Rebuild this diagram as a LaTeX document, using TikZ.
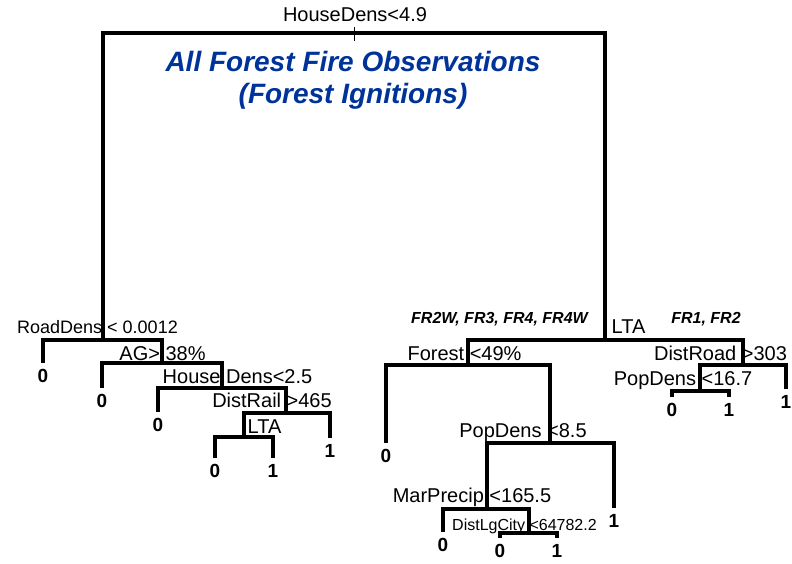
\documentclass[tikz,border=0pt]{standalone}
\usepackage{fontspec}
\setmainfont{Liberation Sans}
\usepackage{xcolor}
\definecolor{titleblue}{RGB}{0,51,153}
\tikzset{
  trunk/.style   ={draw=black, line width=3.2pt},
  branch/.style  ={draw=black, line width=4.2pt},
  tick/.style    ={draw=black, line width=0.8pt},
  splitlbl/.style={anchor=base, inner sep=0pt, font=\fontsize{20}{24}\selectfont},
  smalllbl/.style={splitlbl, font=\fontsize{16}{19}\selectfont},
  grouplbl/.style={splitlbl, font=\fontsize{16}{19}\selectfont\bfseries\itshape},
  leaf/.style    ={anchor=north, inner xsep=0pt, inner ysep=6.5pt,
                   font=\fontsize{19}{22}\selectfont\bfseries},
  title/.style   ={anchor=north, inner sep=0pt, align=center, text=titleblue,
                   font=\fontsize{28}{31.5}\selectfont\bfseries\itshape},
}

\begin{document}
\begin{tikzpicture}[x=1pt, y=-1pt]
\useasboundingbox (0,0) rectangle (792,563);

% ---- split points ----
\coordinate (root)  at (354,33);
\coordinate (rd)    at (103,340);
\coordinate (ag)    at (162,363);
\coordinate (hd)    at (222,388);
\coordinate (dr)    at (286,413);
\coordinate (lta1)  at (244,437);
\coordinate (lta2)  at (605,340);
\coordinate (fo)    at (468,365);
\coordinate (pd1)   at (550,443);
\coordinate (mp)    at (487,509);
\coordinate (dl)    at (529,533);
\coordinate (droad) at (743,365);
\coordinate (pd2)   at (700,391);

% ---- leaves ----
\node[leaf] (z1)  at (43,363)  {0};
\node[leaf] (z2)  at (102,388) {0};
\node[leaf] (z3)  at (158,412) {0};
\node[leaf] (o1)  at (330,438) {1};
\node[leaf] (z4)  at (215,458) {0};
\node[leaf] (o2)  at (273,458) {1};
\node[leaf] (z5)  at (386,443) {0};
\node[leaf] (o3)  at (614,508) {1};
\node[leaf] (z6)  at (443,532) {0};
\node[leaf] (z7)  at (500,538) {0};
\node[leaf] (o4)  at (557,538) {1};
\node[leaf] (o5)  at (786,389) {1};
\node[leaf] (z8)  at (672,397) {0};
\node[leaf] (o6)  at (729,397) {1};

% ---- root ----
\draw[trunk] (root) -| (rd);
\draw[trunk] (root) -| (lta2);
\draw[tick] (root) ++(0,-6) -- ++(0,14);
\node[splitlbl] (lroot) at (355,21) {HouseDens<4.9};
\node[title] (ttl) at (353,51.5) {All Forest Fire Observations\\(Forest Ignitions)};

% ---- left subtree ----
\draw[branch] (rd) -| (z1.north);
\draw[branch] (rd) -| (ag);
\draw[branch] (ag) -| (z2.north);
\draw[branch] (ag) -| (hd);
\draw[branch] (hd) -| (z3.north);
\draw[branch] (hd) -| (dr);
\draw[branch] (dr) -| (lta1);
\draw[branch] (dr) -| (o1.north);
\draw[branch] (lta1) -| (z4.north);
\draw[branch] (lta1) -| (o2.north);

\node[splitlbl, font=\fontsize{18}{22}\selectfont] (lrd) at (97.5,333) {RoadDens < 0.0012};
\node[splitlbl] (lag)   at (162.5,360) {AG> 38\%};
\node[splitlbl] (lhd)   at (237.5,383) {House Dens<2.5};
\node[splitlbl] (ldr)   at (272,407)   {DistRail >465};
\node[splitlbl] (llta1) at (264.5,433) {LTA};

% ---- right subtree ----
\draw[branch] (lta2) -| (fo);
\draw[branch] (lta2) -| (droad);
\draw[branch] (fo) -| (z5.north);
\draw[branch] (fo) -| (pd1);
\draw[branch] (pd1) -| (mp);
\draw[branch] (pd1) -| (o3.north);
\draw[branch] (mp) -| (z6.north);
\draw[branch] (mp) -| (dl);
\draw[branch] (dl) -| (z7.north);
\draw[branch] (dl) -| (o4.north);
\draw[branch] (droad) -| (pd2);
\draw[branch] (droad) -| (o5.north);
\draw[branch] (pd2) -| (z8.north);
\draw[branch] (pd2) -| (o6.north);

\node[grouplbl] (g1)    at (499.5,323) {FR2W, FR3, FR4, FR4W};
\node[grouplbl] (g2)    at (706,323)   {FR1, FR2};
\node[splitlbl] (llta2) at (628.5,333) {LTA};
\node[splitlbl] (lfo)   at (464.5,360) {Forest <49\%};
\node[splitlbl] (lpd1)  at (523,437)   {PopDens <8.5};
\node[splitlbl] (lmp)   at (472,502)   {MarPrecip <165.5};
\node[smalllbl] (ldl)   at (524.5,530) {DistLgCity <64782.2};
\node[splitlbl] (ldrd)  at (720.5,360) {DistRoad >303};
\node[splitlbl] (lpd2)  at (683,385)   {PopDens <16.7};

\end{tikzpicture}
\end{document}
